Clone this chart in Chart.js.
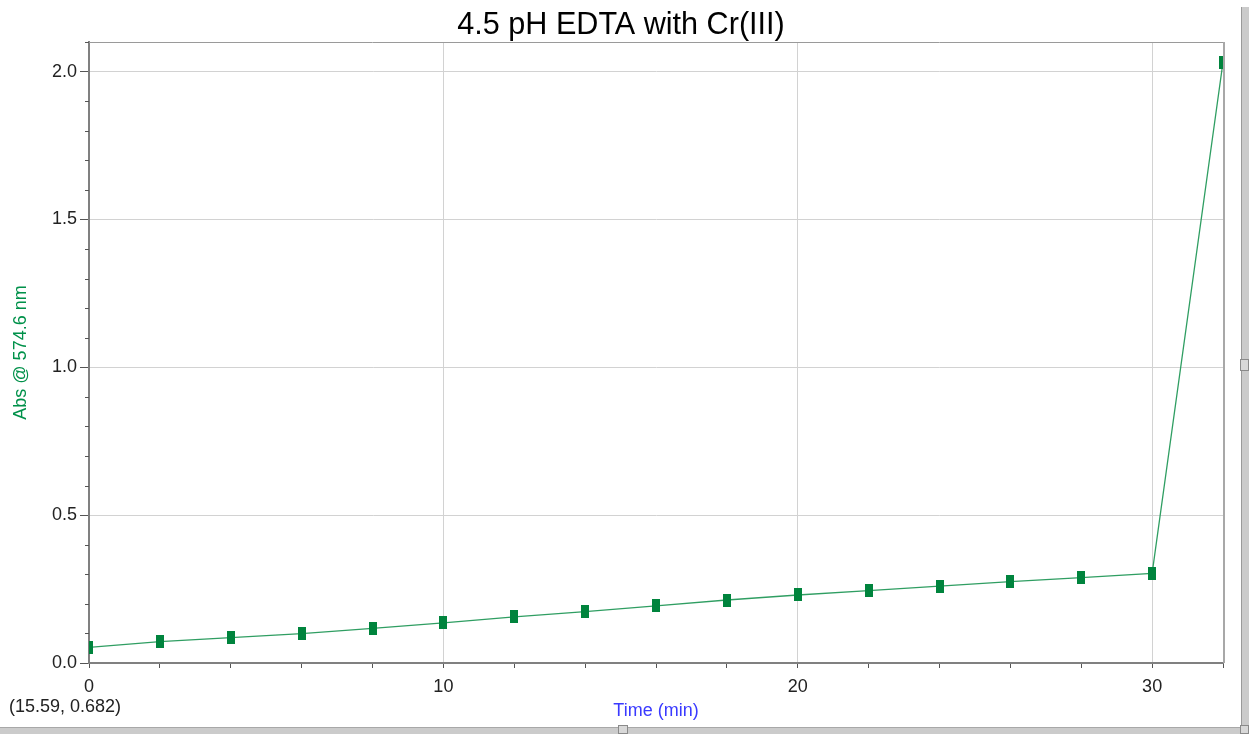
<!DOCTYPE html>
<html>
<head>
<meta charset="utf-8">
<script src="https://cdn.jsdelivr.net/npm/chart.js@4.4.1/dist/chart.umd.min.js"></script>
<style>
  html, body { margin: 0; padding: 0; background: #fff; overflow: hidden; }
  #wrap { position: relative; width: 1249px; height: 734px; }
  canvas { display: block; }
  .bar { position: absolute; background: #cbcbcb; }
  .knob { position: absolute; background: #d8d8d8; border: 1px solid #8a8a8a; box-sizing: border-box; }
</style>
</head>
<body>
<div id="wrap">
  <canvas id="c" width="1249" height="734"></canvas>
  <div class="bar" style="left:1241px;top:7px;width:8px;height:727px;border-left:1px solid #9a9a9a;box-sizing:border-box;"></div>
  <div class="knob" style="left:1240px;top:359px;width:9px;height:12px;"></div>
  <div class="bar" style="left:0;top:727px;width:1241px;height:7px;border-top:1px solid #a8a8a8;box-sizing:border-box;"></div>
  <div class="knob" style="left:618px;top:725px;width:10px;height:9px;"></div>
  <div class="knob" style="left:1240px;top:725px;width:9px;height:9px;"></div>
</div>
<script>
// ---- data ----
const chartTitle = "4.5 pH EDTA with Cr(III)";
const xTitle = "Time (min)";
const yTitle = "Abs @ 574.6 nm";
const cursorReadout = "(15.59, 0.682)";
const timeMin = [0, 2, 4, 6, 8, 10, 12, 14, 16, 18, 20, 22, 24, 26, 28, 30, 32];
const absorbance = [0.053, 0.072, 0.086, 0.099, 0.117, 0.136, 0.156, 0.174, 0.193, 0.213, 0.230, 0.245, 0.260, 0.275, 0.289, 0.303, 2.032];
const xMajorLabels = [0, 10, 20, 30];
const yMajorLabels = [0.0, 0.5, 1.0, 1.5, 2.0];

const GREEN = '#00843d';
const FONT = "'Liberation Sans', Arial, sans-serif";

// rectangular marker
const marker = document.createElement('canvas');
marker.width = 8; marker.height = 13;
(function(){ const g = marker.getContext('2d'); g.fillStyle = GREEN; g.fillRect(0,0,8,13); })();

const isYMajor = v => yMajorLabels.some(m => Math.abs(m - v) < 1e-6);
const isXMajor = v => xMajorLabels.some(m => Math.abs(m - v) < 1e-6);

const framePlugin = {
  id: 'frame',
  afterDraw(chart) {
    const {ctx, chartArea: a} = chart;
    const ys = chart.scales.y;
    ctx.save();
    // minor y ticks
    ctx.strokeStyle = '#555';
    ctx.lineWidth = 1;
    ys.ticks.forEach(t => {
      if (!isYMajor(t.value)) {
        const py = Math.round(ys.getPixelForValue(t.value)) + 0.5;
        ctx.beginPath(); ctx.moveTo(a.left - 4, py); ctx.lineTo(a.left, py); ctx.stroke();
      }
    });
    // top and right frame
    ctx.strokeStyle = '#9a9a9a';
    ctx.beginPath(); ctx.moveTo(a.left, a.top + 0.5); ctx.lineTo(a.right, a.top + 0.5); ctx.stroke();
    ctx.strokeStyle = '#a8a8a8';
    ctx.lineWidth = 2;
    ctx.beginPath(); ctx.moveTo(a.right + 1, a.top); ctx.lineTo(a.right + 1, a.bottom); ctx.stroke();
    // chart title
    ctx.fillStyle = '#000';
    ctx.font = "30.6px " + FONT;
    ctx.textAlign = 'center';
    ctx.textBaseline = 'alphabetic';
    ctx.fillText(chartTitle, 621, 34);
    // cursor readout
    ctx.fillStyle = '#222';
    ctx.font = "18px " + FONT;
    ctx.textBaseline = 'middle';
    ctx.textAlign = 'left';
    ctx.fillText(cursorReadout, 9, 707);
    ctx.restore();
  }
};

new Chart(document.getElementById('c'), {
  type: 'line',
  data: {
    datasets: [{
      data: timeMin.map((t, i) => ({x: t, y: absorbance[i]})),
      borderColor: '#2f9e62',
      borderWidth: 1.3,
      tension: 0,
      pointStyle: marker,
      pointRadius: 6,
      pointHoverRadius: 6,
      fill: false
    }]
  },
  options: {
    responsive: false,
    animation: false,
    events: [],
    layout: { padding: { left: 0, right: 26, top: 42, bottom: 0 } },
    plugins: {
      legend: { display: false },
      tooltip: { enabled: false },
      title: { display: false }
    },
    scales: {
      x: {
        type: 'linear',
        min: 0, max: 32,
        afterFit(s) { s.height = 71; },
        ticks: {
          stepSize: 2,
          autoSkip: false,
          maxRotation: 0,
          color: '#222',
          font: { family: FONT, size: 18 },
          padding: 8,
          callback: v => isXMajor(v) ? String(v) : ''
        },
        grid: {
          color: c => (c.tick && isXMajor(c.tick.value) && c.tick.value !== 0) ? '#d2d2d2' : 'rgba(0,0,0,0)',
          tickColor: '#555',
          tickLength: 5,
          lineWidth: 1
        },
        border: { color: '#808080', width: 2 },
        title: {
          display: true,
          text: xTitle,
          color: '#3a3aff',
          font: { family: FONT, size: 18 },
          padding: { top: 0, bottom: 12 }
        }
      },
      y: {
        type: 'linear',
        min: 0, max: 2.1,
        afterFit(s) { s.width = 89; },
        ticks: {
          stepSize: 0.1,
          autoSkip: false,
          color: '#222',
          font: { family: FONT, size: 18 },
          padding: 3,
          callback: v => isYMajor(v) ? v.toFixed(1) : ''
        },
        grid: {
          color: c => (c.tick && isYMajor(c.tick.value) && c.tick.value > 0) ? '#d2d2d2' : 'rgba(0,0,0,0)',
          tickColor: c => (c.tick && isYMajor(c.tick.value)) ? '#555' : 'rgba(0,0,0,0)',
          tickLength: 9,
          lineWidth: 1
        },
        border: { color: '#808080', width: 2 },
        title: {
          display: true,
          text: yTitle,
          color: '#00914a',
          font: { family: FONT, size: 18 },
          padding: { top: 10, bottom: 0 }
        }
      }
    }
  },
  plugins: [framePlugin]
});
</script>
</body>
</html>
